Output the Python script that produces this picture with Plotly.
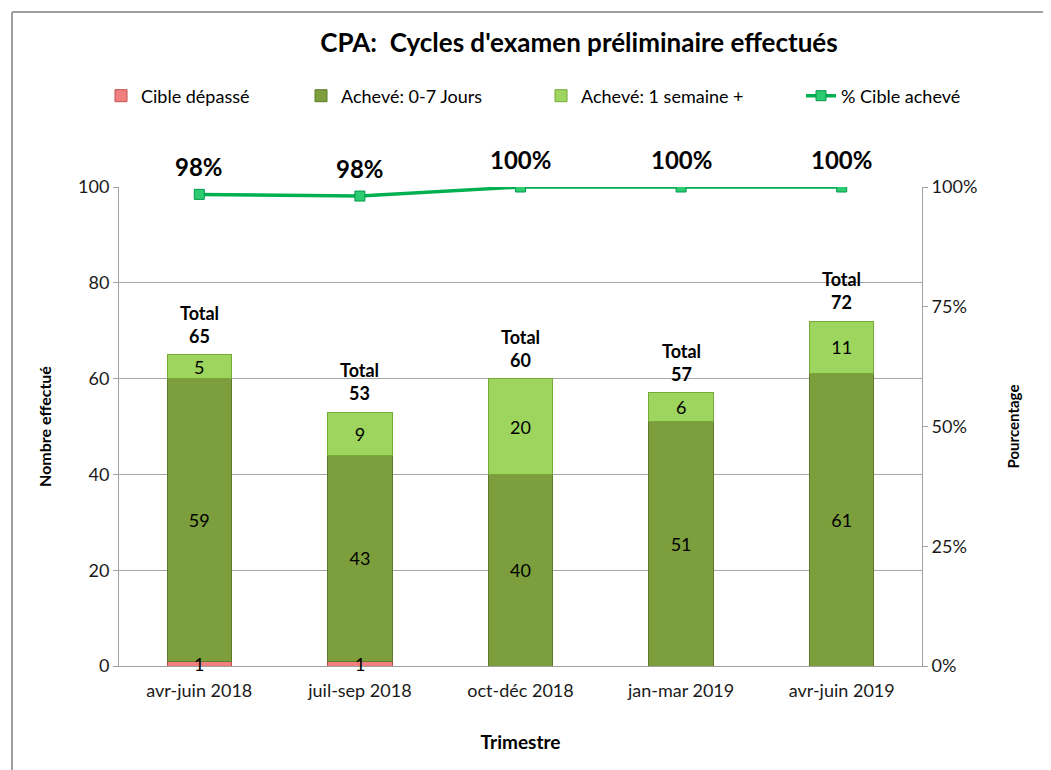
import plotly.graph_objects as go

categories = ["avr-juin 2018", "juil-sep 2018", "oct-déc 2018", "jan-mar 2019", "avr-juin 2019"]
cible_depasse = [1, 1, 0, 0, 0]
acheve_0_7 = [59, 43, 40, 51, 61]
acheve_1sem = [5, 9, 20, 6, 11]
totals = [65, 53, 60, 57, 72]
pct_acheve = [0.9846, 0.9811, 1.0, 1.0, 1.0]
pct_labels = ["98%", "98%", "100%", "100%", "100%"]

FONT = "Lato, 'Open Sans', sans-serif"

# page offset correction (rendered page is shifted by ~7px)
DX, DY = 7, 7
PL, PR, PT, PB = 118, 921, 186, 665  # target plot area in page px
W, H = 1051, 770
ml, mr, mt, mb = PL - DX, W - PR + DX, PT - DY, H - PB + DY
pw, ph = PR - PL, PB - PT


def px(xp):
    return (xp - PL) / pw


def py(yp):
    return (PB - yp) / ph


fig = go.Figure()


def lab(vals):
    return [str(v) if v else "" for v in vals]


common_text = dict(textposition="inside", insidetextanchor="middle", textangle=0,
                   constraintext="none", textfont=dict(size=18, color="black", family=FONT))

fig.add_trace(go.Bar(
    x=categories, y=cible_depasse, name="Cible dépassé", legend="legend2",
    marker=dict(color="#F08080", line=dict(color="#C0504D", width=1)),
    width=0.4,
))
fig.add_trace(go.Bar(
    x=categories, y=acheve_0_7, name="Achevé: 0-7 Jours", legend="legend3",
    marker=dict(color="#7C9E3C", line=dict(color="#5E7A2A", width=1)),
    text=lab(acheve_0_7), width=0.4, **common_text,
))
fig.add_trace(go.Bar(
    x=categories, y=acheve_1sem, name="Achevé: 1 semaine +", legend="legend4",
    marker=dict(color="#9ED55E", line=dict(color="#77A83A", width=1)),
    text=lab(acheve_1sem), width=0.4, **common_text,
))
fig.add_trace(go.Scatter(
    x=categories, y=pct_acheve, name="% Cible achevé", yaxis="y2", legend="legend5",
    mode="lines+markers",
    line=dict(color="#00B050", width=3.5),
    marker=dict(symbol="square", size=10, color="#2ECC71", line=dict(color="#00994A", width=1)),
))

annotations = []
for c, v in zip(categories, cible_depasse):
    if v:
        annotations.append(dict(
            x=c, y=v / 2, xref="x", yref="y", text=str(v), showarrow=False,
            yanchor="middle", font=dict(size=18, color="black", family=FONT),
        ))
for c, t in zip(categories, totals):
    annotations.append(dict(
        x=c, y=t, xref="x", yref="y", text=f"<b>Total<br>{t}</b>", showarrow=False,
        yanchor="bottom", yshift=6, font=dict(size=18, color="black", family=FONT),
    ))
for c, p, l in zip(categories, pct_acheve, pct_labels):
    annotations.append(dict(
        x=c, y=p, xref="x", yref="y2", text=f"<b>{l}</b>", showarrow=False,
        yanchor="bottom", yshift=11, font=dict(size=24, color="black", family=FONT),
    ))

leg_font = dict(size=18, color="black", family=FONT)
leg_y = py(95)


def leg(xpage):
    return dict(orientation="h", x=px(xpage), xanchor="left", y=leg_y, yanchor="middle",
                font=leg_font, itemwidth=30, bgcolor="rgba(0,0,0,0)", visible=True)


fig.update_layout(
    width=W, height=H,
    paper_bgcolor="white", plot_bgcolor="white",
    barmode="stack", bargap=0.6,
    margin=dict(l=ml, r=mr, t=mt, b=mb),
    font=dict(family=FONT, size=18, color="#1a1a1a"),
    title=dict(text="<b>CPA:  Cycles d'examen préliminaire effectués</b>",
               x=px(578), xref="paper", xanchor="center", y=1 - (42 - DY) / H, yanchor="middle",
               font=dict(size=26, color="black", family=FONT)),
    showlegend=True,
    legend2=leg(100),
    legend3=leg(300),
    legend4=leg(540),
    legend5=leg(800),
    xaxis=dict(
        title=dict(text="<b>Trimestre</b>", font=dict(size=19, color="black"), standoff=36),
        showline=True, linecolor="#a0a0a0", linewidth=1, ticks="outside",
        tickcolor="rgba(0,0,0,0)", ticklen=8, tickfont=dict(size=18, color="#1a1a1a"),
    ),
    yaxis=dict(
        range=[0, 100], dtick=20, showgrid=True, gridcolor="#a6a6a6", gridwidth=1,
        showline=True, linecolor="#a0a0a0", ticks="outside", ticklen=5, tickcolor="#a0a0a0",
        title=dict(text="<b>Nombre effectué</b>", font=dict(size=16, color="black"), standoff=22),
        zeroline=False, tickfont=dict(size=18, color="#1a1a1a"),
    ),
    yaxis2=dict(
        range=[0, 1], dtick=0.25, tickformat=".0%", overlaying="y", side="right",
        showgrid=False, showline=True, linecolor="#a0a0a0", ticks="outside", ticklen=5,
        tickcolor="#a0a0a0", zeroline=False,
        title=dict(text="<b>Pourcentage</b>", font=dict(size=15, color="black"), standoff=32),
        tickfont=dict(size=18, color="#1a1a1a"),
    ),
    annotations=annotations,
    shapes=[
        dict(type="line", xref="paper", yref="paper", x0=px(11), x1=px(1060),
             y0=py(11), y1=py(11), line=dict(color="#a0a0a0", width=2)),
        dict(type="line", xref="paper", yref="paper", x0=px(11), x1=px(11),
             y0=py(11), y1=py(780), line=dict(color="#a0a0a0", width=2)),
    ],
)

fig.write_html("out.html")
